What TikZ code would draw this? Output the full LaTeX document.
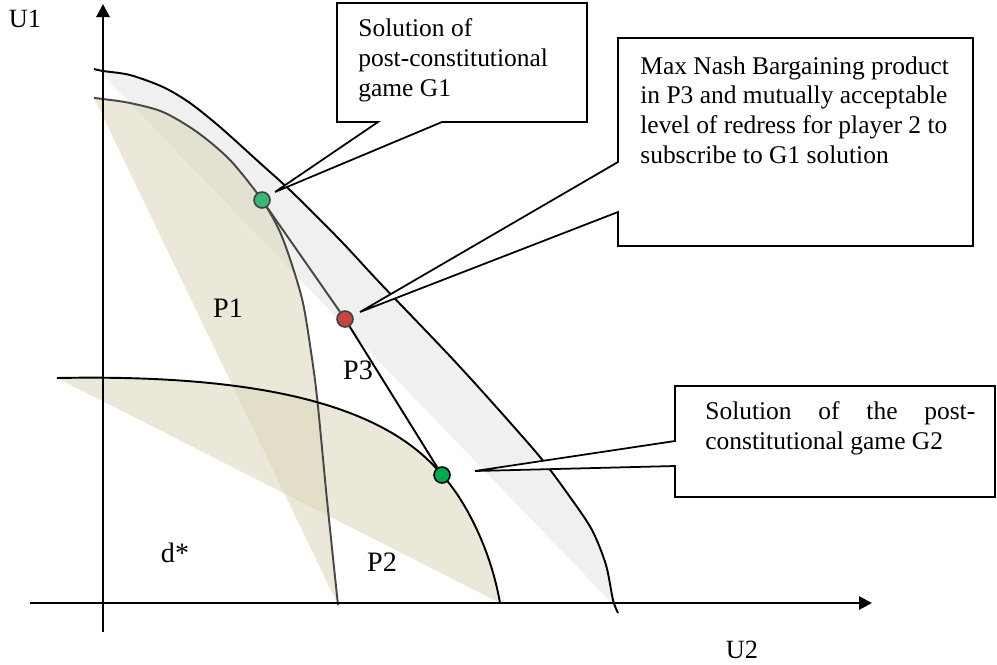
\documentclass[tikz,border=0pt]{standalone}
\usepackage{fontspec}
\setmainfont{Liberation Serif}
\usetikzlibrary{arrows.meta}

\definecolor{gainbeige}{RGB}{218,213,186}
\definecolor{setgray}{RGB}{240,240,240}
\definecolor{solgreen}{RGB}{60,182,120}
\definecolor{nbsred}{RGB}{200,68,68}
\definecolor{g2green}{RGB}{0,168,80}

\tikzset{
  axis/.style={line width=1.6pt,-{Triangle[length=0.26cm,width=0.26cm]}},
  frontier/.style={line width=1.1pt,black},
  g1front/.style={line width=1.1pt,black!72},
  gainset/.style={fill=gainbeige,fill opacity=0.55},
  outerset/.style={fill=setgray},
  callout/.style={draw,line width=1pt,fill=white,line join=miter},
  boxtext/.style={font=\fontsize{14.5}{17}\selectfont,anchor=north west,inner sep=0pt},
  lbl/.style={font=\fontsize{16}{18}\selectfont,inner sep=0pt},
  axlbl/.style={font=\fontsize{15}{18}\selectfont,inner sep=0pt},
  soldot/.style={circle,draw=black!75,line width=0.9pt,minimum size=0.32cm,inner sep=0pt}
}

\begin{document}
\begin{tikzpicture}[x=0.02cm,y=-0.02cm]
  \useasboundingbox (0,0) rectangle (997,664);

  % ========== Feasible sets ==========
  \fill[outerset] (103,75) -- plot[smooth] coordinates {(103,71) (130,75) (163,87) (190,103) (220,127) (260,163) (293,193) (340,240) (380,283) (447,353) (490,400) (540,457) (570,497) (592,530) (606,565) (613,600)} -- (612,603) -- cycle;
  % P1
  \fill[gainset] plot[smooth] coordinates {(94,98) (103,99) (130,103) (163,112) (197,132) (230,160) (262,200) (280,232) (293,268) (303,303) (310,345) (317,397) (327,500) (338,605)} -- cycle;
  % P2
  \fill[gainset] (57,378) .. controls (260,374) and (385,405) .. (442,475) .. controls (462,496) and (490,545) .. (500,603) -- cycle;

  % ========== Frontiers ==========
  \draw[frontier] plot[smooth] coordinates {(94,69) (103,71) (130,75) (163,87) (190,103) (220,127) (260,163) (293,193) (340,240) (380,283) (447,353) (490,400) (540,457) (570,497) (592,530) (606,565) (613,600) (618,613)};
  \draw[g1front] plot[smooth] coordinates {(94,98) (103,99) (130,103) (163,112) (197,132) (230,160) (262,200) (280,232) (293,268) (303,303) (310,345) (317,397) (327,500) (338,605)};
  \draw[frontier] (57,378) .. controls (260,374) and (385,405) .. (442,475) .. controls (462,496) and (490,545) .. (500,603);

  % ========== Axes ==========
  \coordinate (yfoot) at (103,632);
  \coordinate (ytip) at (103,4);
  \coordinate (xfoot) at (30,603);
  \coordinate (xtip) at (872,603);
  \draw[axis] (yfoot) -- (ytip);
  \draw[axis] (xfoot) -- (xtip);
  \node[axlbl] (u1) at (25,19) {U1};
  \node[axlbl] (u2) at (742,650) {U2};

  % ========== Solutions ==========
  \node[soldot,fill=solgreen] (g1sol) at (262,200) {};
  \node[soldot,fill=nbsred] (nbs) at (345,319) {};
  \node[soldot,fill=g2green,draw=black] (g2sol) at (442,475) {};
  \draw[g1front] (g1sol) -- (nbs);
  \draw[frontier] (nbs) -- (g2sol);

  \node[lbl] (p1) at (228,308) {P1};
  \node[lbl] (p2) at (382,562) {P2};
  \node[lbl] (p3) at (358,370) {P3};
  \node[lbl] (dstar) at (175,553) {d*};

  % ========== Callouts ==========
  \coordinate (tipa) at (275,192);
  \coordinate (tipb) at (360,312);
  \coordinate (tipc) at (475,471);
  \draw[callout] (337,3) -- (587,3) -- (587,122) -- (442,122) -- (tipa) -- (378,122) -- (337,122) -- cycle;
  \draw[callout] (618,38) -- (973,38) -- (973,246) -- (618,246) -- (618,212) -- (tipb) -- (618,162) -- cycle;
  \draw[callout] (675,386) -- (995,386) -- (995,497) -- (675,497) -- (675,466) -- (tipc) -- (675,441) -- cycle;

  \node[boxtext,align=left] (g1note) at (358,18) {Solution of\\post-constitutional\\game G1};
  \node[boxtext,align=left] (nbsnote) at (640,56) {Max Nash Bargaining product\\in P3 and mutually acceptable\\level of redress for player 2 to\\subscribe to G1 solution};
  \node[boxtext,text width=5.4cm,align=justify] (g2note) at (705,401) {Solution of the post-\linebreak constitutional game G2};
\end{tikzpicture}
\end{document}
